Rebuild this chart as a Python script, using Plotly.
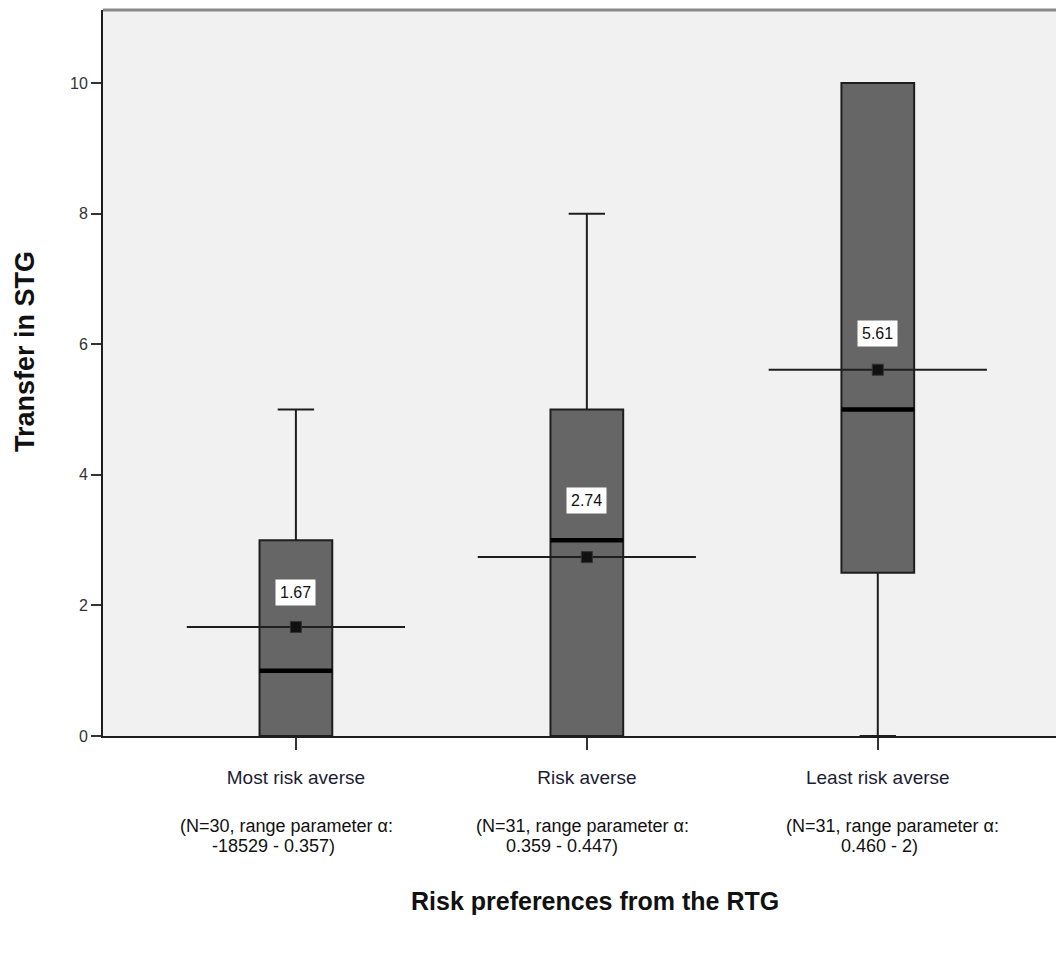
import plotly.graph_objects as go

categories = ["Most risk averse", "Risk averse", "Least risk averse"]
sub_line1 = ["(N=30, range parameter α:", "(N=31, range parameter α:", "(N=31, range parameter α:"]
sub_line2 = ["-18529 - 0.357)", "0.359 - 0.447)", "0.460 - 2)"]
q1 = [0, 0, 2.5]
median = [1, 3, 5]
q3 = [3, 5, 10]
lowerfence = [0, 0, 0]
upperfence = [5, 8, 10]
means = [1.67, 2.74, 5.61]
y_ticks = [0, 2, 4, 6, 8, 10]

pos = list(range(len(categories)))
BOX_W = 0.25
MEAN_HALF = 0.375
FONT = "Liberation Sans, Arial, sans-serif"

# page body has an 8px margin: shrink the figure so the plot lands where the reference has it
OFF = 8
W, H = 1064 - OFF, 961 - OFF
L, T, B = 103 - OFF, 10 - OFF, 961 - 736

fig = go.Figure()

fig.add_trace(go.Box(
    x=pos, q1=q1, median=median, q3=q3,
    lowerfence=lowerfence, upperfence=upperfence,
    width=BOX_W, whiskerwidth=0.5,
    fillcolor="#666666", line=dict(color="#1e1e1e", width=2),
    boxpoints=False, hoverinfo="skip", showlegend=False,
))

# thick median lines
for p, m in zip(pos, median):
    fig.add_trace(go.Scatter(
        x=[p - BOX_W / 2, p + BOX_W / 2], y=[m, m], mode="lines",
        line=dict(color="#000000", width=4.5), hoverinfo="skip", showlegend=False,
    ))

# mean lines and markers
for p, mu in zip(pos, means):
    fig.add_trace(go.Scatter(
        x=[p - MEAN_HALF, p + MEAN_HALF], y=[mu, mu], mode="lines",
        line=dict(color="#1e1e1e", width=2), hoverinfo="skip", showlegend=False,
    ))
fig.add_trace(go.Scatter(
    x=pos, y=means, mode="markers",
    marker=dict(symbol="square", size=11, color="#111111", line=dict(color="#333333", width=1)),
    hoverinfo="skip", showlegend=False,
))

# mean value labels
label_shift = [34, 57, 36]
for p, mu, s in zip(pos, means, label_shift):
    fig.add_annotation(
        x=p, y=mu, xref="x", yref="y", text=f"{mu:.2f}", showarrow=False,
        yshift=s, bgcolor="white", borderpad=4,
        font=dict(family=FONT, size=16, color="#111111"),
    )

# subtitles under category labels
sub_shift1 = [-9, -4, 15]
sub_shift2 = [-22, -25, 2]
for p, s1, s2, d1, d2 in zip(pos, sub_line1, sub_line2, sub_shift1, sub_shift2):
    fig.add_annotation(x=p, y=0, xref="x", yref="paper", text=s1, showarrow=False,
                       xanchor="center", yanchor="middle",
                       xshift=d1, yshift=-90, font=dict(family=FONT, size=18, color="#111111"))
    fig.add_annotation(x=p, y=0, xref="x", yref="paper", text=s2, showarrow=False,
                       xanchor="center", yanchor="middle",
                       xshift=d2, yshift=-110, font=dict(family=FONT, size=18, color="#111111"))

# axis titles
fig.add_annotation(x=0.5, y=0, xref="paper", yref="paper", text="<b>Risk preferences from the RTG</b>",
                   showarrow=False, xanchor="center", yanchor="middle", xshift=11, yshift=-165,
                   font=dict(family=FONT, size=25, color="#111111"))
fig.add_annotation(x=0, y=0.5, xref="paper", yref="paper", text="<b>Transfer in STG</b>",
                   showarrow=False, xanchor="center", yanchor="middle",
                   xshift=-(103 - 25), yshift=21, textangle=-90,
                   font=dict(family=FONT, size=27, color="#111111"))

# top border
fig.add_shape(type="line", xref="paper", yref="paper", x0=0, x1=1, y0=1, y1=1,
              line=dict(color="#8a8a8a", width=3))

fig.update_layout(
    width=W, height=H,
    margin=dict(l=L, r=0, t=T, b=B),
    paper_bgcolor="white", plot_bgcolor="#f0f1f0",
    showlegend=False,
    xaxis=dict(
        range=[-0.663, 2.64], tickmode="array", tickvals=pos, ticktext=categories,
        showgrid=False, zeroline=False, showline=True, linecolor="#1e1e1e", linewidth=2,
        ticks="outside", ticklen=12, tickwidth=2, tickcolor="#333333",
        ticklabelstandoff=11,
        tickfont=dict(family=FONT, size=19, color="#1c1c34"),
    ),
    yaxis=dict(
        range=[0, 11.12], tickmode="array", tickvals=y_ticks,
        showgrid=False, zeroline=False, showline=True, linecolor="#1e1e1e", linewidth=2,
        ticks="outside", ticklen=10, tickwidth=2, tickcolor="#333333",
        tickfont=dict(family=FONT, size=16, color="#333333"),
    ),
)

fig.write_html("out.html")
